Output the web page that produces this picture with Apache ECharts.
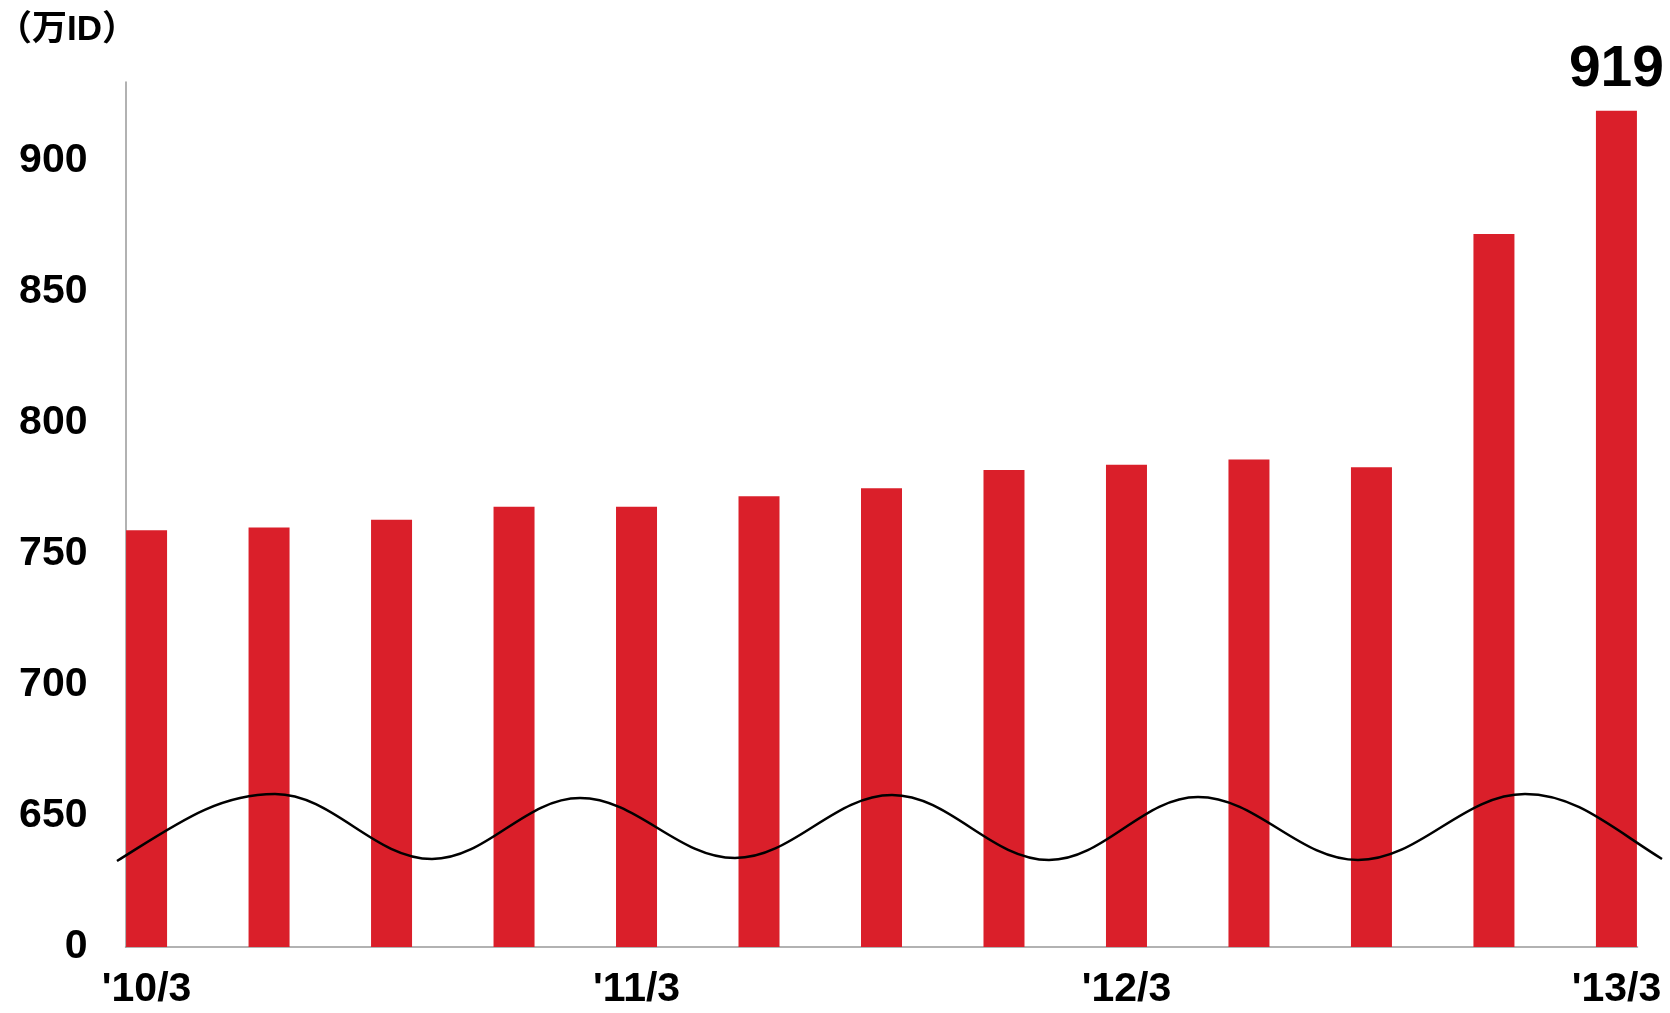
<!DOCTYPE html>
<html><head><meta charset="utf-8">
<script src="https://cdn.jsdelivr.net/npm/echarts@6/dist/echarts.min.js"></script>
<style>html,body{margin:0;padding:0;background:#fff}#c{width:1670px;height:1013px}</style>
</head><body><div id="c"></div>
<script>
// ---- data ----
const categories = ["'10/3","'10/6","'10/9","'10/12","'11/3","'11/6","'11/9","'11/12","'12/3","'12/6","'12/9","'12/12","'13/3"];
const values = [759, 760, 763, 768, 768, 772, 775, 782, 784, 786, 783, 872, 919];
const xTickIndexes = [0, 4, 8, 12];
const yTickValues = [600, 650, 700, 750, 800, 850, 900];
const yTickLabels = ['0', '650', '700', '750', '800', '850', '900'];
const unitLabel = '（万ID）';
const labeledIndex = 12;

// ---- decoration: axis-break wave (pixel anchors: x, y, slope) ----
const waveAnchors = [
  [117, 861, -0.62], [275, 794, 0], [432, 859, 0], [580, 798, 0], [735, 858, 0],
  [892, 795, 0], [1049, 860, 0], [1198, 797, 0], [1358, 860, 0], [1525, 794, 0], [1662, 859, 0.62]
];

const FONT = "'Liberation Sans', Arial, sans-serif";
const chart = echarts.init(document.getElementById('c'));

const waveGraphics = [];
for (let i = 0; i < waveAnchors.length - 1; i++) {
  const a = waveAnchors[i], b = waveAnchors[i + 1];
  const k = (b[0] - a[0]) * 0.37;
  waveGraphics.push({
    type: 'bezierCurve', z: 100, silent: true,
    shape: { x1: a[0], y1: a[1], cpx1: a[0] + k, cpy1: a[1] + a[2] * k,
             cpx2: b[0] - k, cpy2: b[1] - b[2] * k, x2: b[0], y2: b[1] },
    style: { stroke: '#000', lineWidth: 2.5, fill: null }
  });
}

chart.setOption({
  animation: false,
  backgroundColor: '#fff',
  grid: { left: 125.5, right: 32.5, top: 82, bottom: 66, containLabel: false, outerBoundsMode: 'none' },
  xAxis: {
    type: 'value', min: -0.172, max: 12.172,
    axisLine: { show: true, onZero: false, lineStyle: { color: '#999', width: 1.5 } },
    axisTick: { show: false }, splitLine: { show: false },
    axisLabel: {
      customValues: xTickIndexes,
      formatter: v => categories[Math.round(v)],
      fontSize: 41, fontWeight: 'bold', color: '#000', fontFamily: FONT, margin: 22
    }
  },
  yAxis: {
    type: 'value', min: 600, max: 930,
    axisLine: { show: true, onZero: false, lineStyle: { color: '#999', width: 1.5 } },
    axisTick: { show: false }, splitLine: { show: false },
    axisLabel: {
      customValues: yTickValues,
      formatter: v => yTickLabels[yTickValues.indexOf(v)],
      fontSize: 41, fontWeight: 'bold', color: '#000', fontFamily: FONT, margin: 38
    }
  },
  series: [{
    type: 'bar',
    barWidth: 41,
    itemStyle: { color: '#DA1F2A' },
    data: values.map((v, i) => ({
      value: [i, v],
      label: {
        show: i === labeledIndex, position: 'top', distance: 12,
        fontSize: 57, fontWeight: 'bold', color: '#000', fontFamily: FONT,
        formatter: p => String(p.value[1])
      }
    }))
  }],
  graphic: [
    {
      type: 'text', x: -3, y: 30, z: 100,
      style: { text: unitLabel, fontSize: 35, fontWeight: 'bold', fill: '#000', verticalAlign: 'middle',
               fontFamily: "'Liberation Sans', 'Noto Sans CJK JP', sans-serif" }
    }
  ].concat(waveGraphics)
});
</script></body></html>
